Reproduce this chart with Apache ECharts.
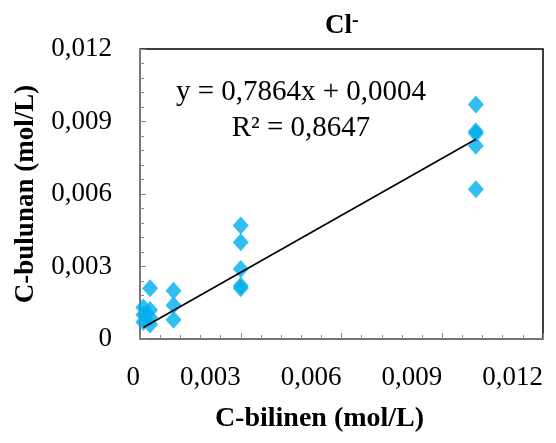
<!DOCTYPE html>
<html>
<head>
<meta charset="utf-8">
<script src="https://cdn.jsdelivr.net/npm/echarts@6/dist/echarts.min.js"></script>
<style>html,body{margin:0;padding:0;background:#fff;}#c{width:556px;height:443px;}</style>
</head>
<body>
<div id="c"></div>
<script>
// Data
const knownX = [0.0001, 0.0001, 0.0001, 0.0003, 0.0003, 0.0003, 0.0003,
                0.001, 0.001, 0.001,
                0.003, 0.003, 0.003, 0.003, 0.003,
                0.01, 0.01, 0.01, 0.01, 0.01];
const foundY = [0.0013, 0.0010, 0.0007, 0.0021, 0.0012, 0.0009, 0.0006,
                0.0020, 0.0014, 0.0008,
                0.0047, 0.0040, 0.0029, 0.0022, 0.0021,
                0.0097, 0.0086, 0.0085, 0.0080, 0.0062];
const slope = 0.7864;
const intercept = 0.0004;
const equationText = 'y = 0,7864x + 0,0004';
const r2Text = 'R² = 0,8647';
const xTitle = 'C-bilinen (mol/L)';
const yTitle = 'C-bulunan (mol/L)';

const points = knownX.map((x, i) => [x, foundY[i]]);
const xMin = Math.min(...knownX), xMax = Math.max(...knownX);
const trend = [[xMin, slope * xMin + intercept], [xMax, slope * xMax + intercept]];

const fmt = v => v === 0 ? '0' : v.toFixed(3).replace('.', ',');
const font = 'Liberation Serif, Times New Roman, serif';
const axisGray = '#898989';

const chart = echarts.init(document.getElementById('c'), null, {renderer: 'canvas'});
chart.setOption({
  animation: false,
  textStyle: {fontFamily: font},
  title: {
    text: '{a|Cl}{b|-}',
    left: 320, top: 6,
    textStyle: {
      fontFamily: font,
      rich: {
        a: {fontFamily: font, fontSize: 27, fontWeight: 'bold', color: '#000', lineHeight: 30},
        b: {fontFamily: font, fontSize: 20, fontWeight: 'bold', color: '#000', verticalAlign: 'top', lineHeight: 30, padding: [0, 0, 12, 0]}
      }
    }
  },
  grid: {left: 140, right: 13, top: 49, bottom: 104, show: true, borderColor: '#000', borderWidth: 1.5, backgroundColor: 'transparent'},
  xAxis: {
    type: 'value', min: 0, max: 0.012, interval: 0.003,
    axisLine: {show: true, lineStyle: {color: axisGray, width: 1.5}},
    axisTick: {show: true, inside: true, length: 6, lineStyle: {color: axisGray}},
    minorTick: {show: true, splitNumber: 5, length: 4, lineStyle: {color: axisGray}},
    splitLine: {show: false},
    axisLabel: {formatter: fmt, color: '#000', fontSize: 27, fontFamily: font, align: 'right', margin: 25},
    name: xTitle, nameLocation: 'middle', nameGap: 66,
    nameTextStyle: {color: '#000', fontSize: 28, fontWeight: 'bold', fontFamily: font, padding: [0, 44, 0, 0]}
  },
  yAxis: {
    type: 'value', min: 0, max: 0.012, interval: 0.003,
    axisLine: {show: true, lineStyle: {color: axisGray, width: 1.5}},
    axisTick: {show: true, inside: true, length: 6, lineStyle: {color: axisGray}},
    minorTick: {show: true, splitNumber: 5, length: 4, lineStyle: {color: axisGray}},
    splitLine: {show: false},
    axisLabel: {formatter: fmt, color: '#000', fontSize: 27, fontFamily: font, margin: 28},
    name: yTitle, nameLocation: 'middle', nameGap: 100,
    nameTextStyle: {color: '#000', fontSize: 27, fontWeight: 'bold', fontFamily: font}
  },
  series: [
    {
      type: 'line', data: trend, symbol: 'none', z: 3,
      lineStyle: {color: '#000', width: 1.6}
    },
    {
      type: 'scatter', data: points, symbol: 'diamond', symbolSize: [16, 18], z: 2,
      itemStyle: {color: '#00AEEF'}
    }
  ],
  graphic: [
    {
      type: 'text', x: 301, y: 92, z: 10,
      style: {text: equationText, fontFamily: font, fontSize: 29, fill: '#000', align: 'center', verticalAlign: 'middle'}
    },
    {
      type: 'text', x: 301, y: 128, z: 10,
      style: {text: r2Text, fontFamily: font, fontSize: 29, fill: '#000', align: 'center', verticalAlign: 'middle'}
    }
  ]
});
</script>
</body>
</html>
